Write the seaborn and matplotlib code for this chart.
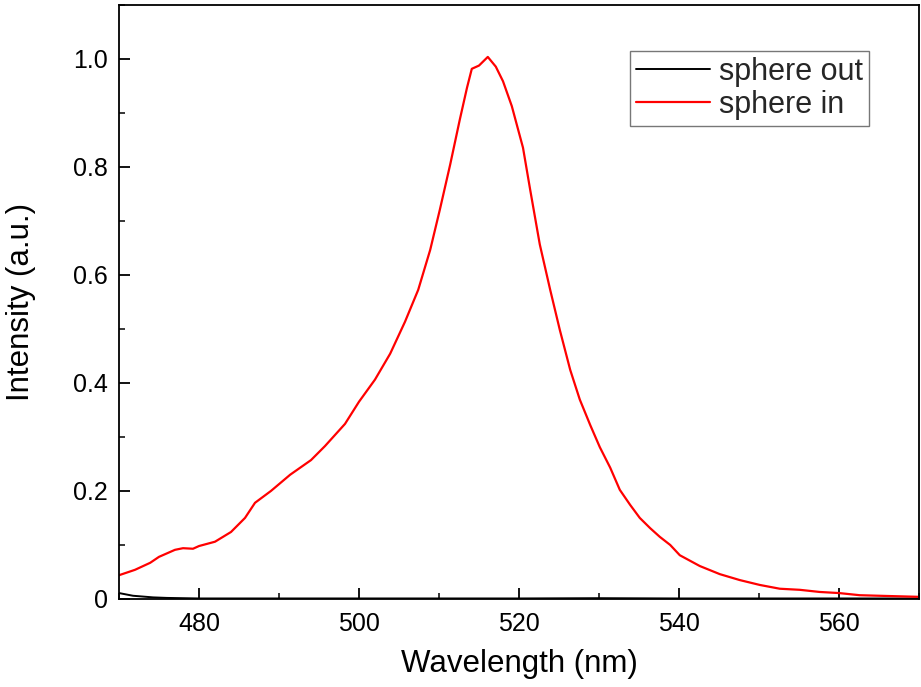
import matplotlib
matplotlib.use("Agg")
import matplotlib.pyplot as plt
import seaborn as sns
import pandas as pd
from matplotlib.ticker import MultipleLocator, FuncFormatter

sns.set_theme(style="white")
plt.rcParams['font.family'] = ['Liberation Sans', 'DejaVu Sans']

# sphere in (red)
wl_in = [470, 472, 473.9, 475, 477, 478, 479.25, 480, 482, 484, 485.75, 487, 489,
         491.4, 494, 495.75, 498.25, 500, 502, 503.9, 505.75, 507.4, 508.9, 510.1,
         511.4, 512.6, 513.5, 514.1, 515, 516.1, 517.1, 518, 519.1, 520.5, 521.4,
         522.6, 523.9, 525.1, 526.4, 527.6, 528.9, 530.1, 531.4, 532.6, 533.9,
         535.1, 536.4, 537.6, 538.9, 540.1, 542.6, 545.1, 547.6, 550.1, 552.6,
         555.1, 557.6, 560, 562.6, 565, 570]
int_in = [0.044, 0.054, 0.067, 0.078, 0.091, 0.094, 0.093, 0.098, 0.106, 0.124, 0.150,
          0.178, 0.200, 0.230, 0.257, 0.283, 0.324, 0.365, 0.406, 0.454, 0.513, 0.572,
          0.646, 0.720, 0.804, 0.887, 0.946, 0.981, 0.987, 1.003, 0.985, 0.958, 0.912,
          0.835, 0.757, 0.656, 0.572, 0.498, 0.424, 0.369, 0.322, 0.281, 0.243, 0.202,
          0.174, 0.150, 0.131, 0.115, 0.100, 0.081, 0.061, 0.046, 0.035, 0.026, 0.019,
          0.017, 0.013, 0.011, 0.007, 0.006, 0.004]

# sphere out (black)
wl_out = [470, 471.75, 474.25, 476, 480, 490, 500, 510, 520, 530, 540, 550, 560, 570]
int_out = [0.011, 0.006, 0.003, 0.002, 0.001, 0.001, 0.001, 0.001, 0.001, 0.0015,
           0.001, 0.001, 0.001, 0.001]

df_out = pd.DataFrame({"wl": wl_out, "I": int_out})
df_in = pd.DataFrame({"wl": wl_in, "I": int_in})

fig = plt.figure(figsize=(9.21, 6.87), dpi=100)
ax = fig.add_axes([119/921, 1 - 599/687, 800/921, 594.5/687])

sns.lineplot(data=df_out, x="wl", y="I", ax=ax, color="black", lw=1.4,
             label="sphere out", sort=False)
sns.lineplot(data=df_in, x="wl", y="I", ax=ax, color="#ff0000", lw=1.6,
             label="sphere in", sort=False)

ax.set_xlim(470, 570)
ax.set_ylim(0, 1.1)
ax.xaxis.set_major_locator(MultipleLocator(20))
ax.xaxis.set_minor_locator(MultipleLocator(10))
ax.yaxis.set_major_locator(MultipleLocator(0.2))
ax.yaxis.set_minor_locator(MultipleLocator(0.1))
ax.yaxis.set_major_formatter(FuncFormatter(lambda v, p: "0" if abs(v) < 1e-9 else f"{v:.1f}"))

ax.tick_params(axis="both", which="major", direction="in", length=8, width=1.3,
               labelsize=18, pad=8, colors="black", bottom=True, left=True,
               top=False, right=False)
ax.tick_params(axis="x", which="major", pad=9.5)
ax.tick_params(axis="both", which="minor", direction="in", length=4.5, width=1.3,
               bottom=True, left=True, top=False, right=False)
for s in ax.spines.values():
    s.set_linewidth(1.3)
    s.set_color("black")

ax.set_xlabel("Wavelength (nm)", fontsize=22.5, labelpad=9, color="black")
ax.set_ylabel("Intensity (a.u.)", fontsize=22.5, labelpad=27, color="black")

leg = ax.legend(loc="upper right", bbox_to_anchor=((869-119)/800, (599-51)/594.5),
                borderaxespad=0, fontsize=22, frameon=True, fancybox=False,
                edgecolor="#555555", handlelength=2.4, handletextpad=0.3,
                borderpad=0.2, labelspacing=0.1)
leg.get_frame().set_linewidth(1.0)

fig.savefig("out.png", dpi=100, facecolor="white")
